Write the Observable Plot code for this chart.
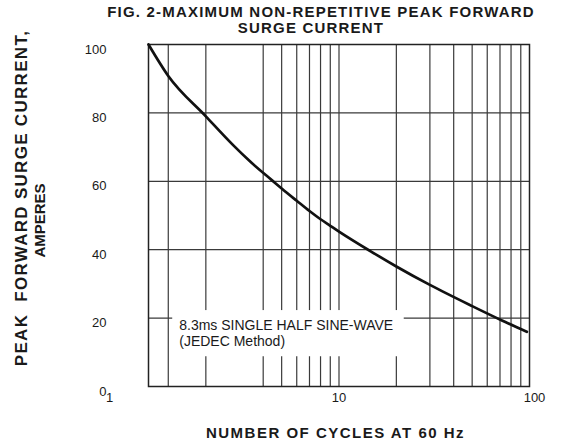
<!DOCTYPE html>
<html><head><meta charset="utf-8">
<script src="https://cdn.jsdelivr.net/npm/d3@7"></script>
<script src="https://cdn.jsdelivr.net/npm/@observablehq/plot@0.6"></script>
<style>
body{margin:0;background:#fff}
#chart svg{font-family:"Liberation Sans",Arial,Helvetica,sans-serif;overflow:visible}
</style>
</head><body><div id="chart"></div>
<script>
// Data
const cycles  = [1, 1.27, 2, 2.79, 3.43, 4.47, 5, 6, 7, 8, 9, 10, 14.6, 20, 30, 50, 71.7, 96.9];
const amperes = [100, 90.8, 79.0, 70.5, 65.7, 60.2, 57.9, 54.3, 51.3, 48.9, 47.0, 45.3, 39.6, 35.1, 29.7, 23.5, 19.3, 16.0];
const xGridLines = [1.27, 2, 4, 5, 6, 7, 8, 9, 10, 20, 30, 40, 50, 60, 70, 80, 90];
const yGridLines = [20, 40, 60, 80];
const yTicks = [0, 20, 40, 60, 80, 100];
const xTicks = [1, 10, 100];
const xTickLabels = ["1", "10", "100"];
const titleLines = ["FIG. 2-MAXIMUM NON-REPETITIVE PEAK FORWARD", "SURGE CURRENT"];
const yLabelLines = ["PEAK\u00a0\u00a0FORWARD SURGE CURRENT,", "AMPERES"];
const xLabel = "NUMBER OF CYCLES AT 60 Hz";
const noteText = "8.3ms SINGLE HALF SINE-WAVE\n(JEDEC Method)";
// annotation anchor (data coordinates)
const noteBox = [{x1: 1.34, x2: 22, y1: 8.7, y2: 22.2}];
const noteAnchor = [{x: 1.45, y: 15.7}];

const curve = cycles.map((c, i) => ({c, a: amperes[i]}));
const gridColor = "#3a3a3a";
const ink = "#1a1a1a";

const chart = Plot.plot({
  width: 567,
  height: 447,
  marginLeft: 148,
  marginRight: 38,
  marginTop: 44,
  marginBottom: 61,
  x: {type: "log", domain: [1, 100], axis: null},
  y: {domain: [0, 100], axis: null},
  marks: [
    Plot.ruleX(xGridLines, {x: d => d, stroke: gridColor, strokeWidth: 1.2}),
    Plot.ruleY(yGridLines, {y: d => d, stroke: gridColor, strokeWidth: 1.2}),
    Plot.rect(noteBox, {x1: "x1", x2: "x2", y1: "y1", y2: "y2", fill: "white"}),
    Plot.text(noteAnchor, {x: "x", y: "y", text: () => noteText, textAnchor: "start", lineAnchor: "middle", lineHeight: 1.15, fontSize: 14, fill: ink}),
    Plot.frame({stroke: "#222", strokeWidth: 1.5}),
    Plot.line(curve, {x: "c", y: "a", curve: "monotone-x", stroke: "#111", strokeWidth: 2.7}),
    // y tick labels
    Plot.text(yTicks, {y: d => d, frameAnchor: "left", dx: -42, dy: 5, textAnchor: "end", text: d => String(d), fontSize: 13, fill: ink}),
    // x tick labels
    Plot.text([xTicks[0]], {x: d => d, frameAnchor: "bottom", dx: -39, dy: 15, text: () => xTickLabels[0], fontSize: 13, fill: ink}),
    Plot.text([xTicks[1]], {x: d => d, frameAnchor: "bottom", dy: 15, text: () => xTickLabels[1], fontSize: 13, fill: ink}),
    Plot.text([xTicks[2]], {x: d => d, frameAnchor: "bottom", dx: 5, dy: 15, text: () => xTickLabels[2], fontSize: 13, fill: ink}),
    // title
    Plot.text([titleLines[0]], {frameAnchor: "top", dx: -18, dy: -32, text: d => d, fontSize: 15, fontWeight: "bold", fill: ink, lineAnchor: "middle", textAnchor: "middle"}),
    Plot.text([titleLines[1]], {frameAnchor: "top", dx: -28, dy: -16.5, text: d => d, fontSize: 15, fontWeight: "bold", fill: ink, lineAnchor: "middle", textAnchor: "middle"}),
    // axis labels
    Plot.text([xLabel], {frameAnchor: "bottom", dx: -3.5, dy: 46.5, text: d => d, fontSize: 15, fontWeight: "bold", fill: ink, lineAnchor: "middle", textAnchor: "middle"}),
    Plot.text([yLabelLines[0]], {frameAnchor: "left", dx: -127, dy: -17.5, rotate: -90, text: d => d, fontSize: 17, fontWeight: "bold", fill: ink, lineAnchor: "middle", textAnchor: "middle"}),
    Plot.text([yLabelLines[1]], {frameAnchor: "left", dx: -108, dy: 5, rotate: -90, text: d => d, fontSize: 15, fontWeight: "bold", fill: ink, lineAnchor: "middle", textAnchor: "middle"})
  ]
});
document.getElementById("chart").appendChild(chart);
// widen the bold label lettering to match the reference's stretched type
d3.select(chart).selectAll("text").each(function() {
  const t = this.textContent;
  if (t === titleLines[0]) this.setAttribute("letter-spacing", "1.2");
  if (t === titleLines[1]) this.setAttribute("letter-spacing", "1.2");
  if (t === xLabel) this.setAttribute("letter-spacing", "1.5");
  if (t === yLabelLines[0]) this.setAttribute("letter-spacing", "1.3");
});
</script>
</body></html>
